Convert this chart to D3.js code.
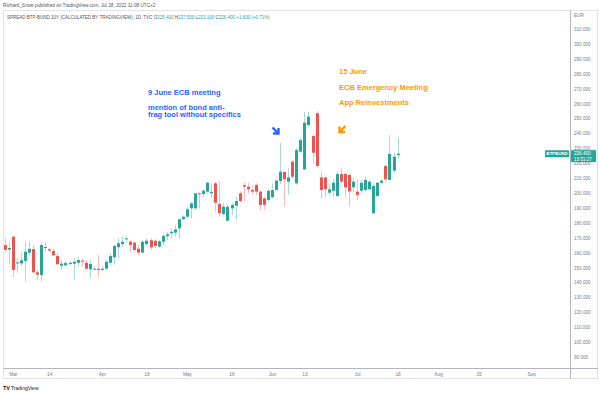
<!DOCTYPE html>
<html><head><meta charset="utf-8">
<script src="https://cdn.jsdelivr.net/npm/d3@7"></script>
<style>
html,body{margin:0;padding:0;background:#fff;}
svg{display:block;font-family:"Liberation Sans",Arial,sans-serif;}
</style></head>
<body>
<svg id="chart" width="601" height="393"></svg>
<script>
// ---- data (daily candles, index 0 = first visible day) ----
const opens = [
165.1,162.0,170.7,152.8,152.8,154.4,160.0,162.4,146.8,145.0,
163.1,162.2,161.1,157.7,151.2,151.5,152.4,152.6,153.2,154.6,
153.2,148.8,148.8,149.2,148.4,149.2,153.2,156.9,163.6,165.8,
168.9,167.3,166.7,162.6,160.0,165.8,168.3,168.0,164.0,167.3,
171.0,173.0,173.4,176.3,182.4,184.1,189.7,189.7,199.8,199.3,
200.9,199.8,206.5,192.6,185.9,181.4,189.7,191.5,199.8,205.2,
204.2,202.0,205.4,200.9,196.4,195.3,197.1,202.0,208.0,214.1,
207.6,221.0,206.5,227.7,215.9,245.6,238.2,253.5,210.5,210.5,
200.2,201.5,198.0,212.7,212.7,212.1,203.8,200.9,201.5,202.0,
202.5,186.4,198.0,206.9,218.1,208.7,215.0,225.4];
const highs = [
169.6,167.1,171.0,156.2,160.0,166.7,167.6,164.9,148.4,166.7,
167.1,163.1,162.2,159.6,155.1,154.4,154.0,156.2,156.9,156.2,
155.1,155.1,150.6,158.4,151.0,155.1,159.6,165.1,169.6,171.0,
171.2,168.4,167.3,165.1,168.4,169.6,169.6,169.0,168.4,173.0,
174.0,176.3,178.5,183.0,185.2,190.4,194.2,200.0,200.2,202.5,
207.6,206.5,207.6,208.3,193.1,192.0,193.5,197.5,200.9,206.9,
206.9,205.4,206.5,202.0,197.5,202.5,206.5,209.2,233.7,214.3,
216.6,222.1,230.2,236.9,254.5,254.5,238.9,255.0,214.3,210.5,
206.5,209.2,214.3,216.6,213.2,212.7,209.9,208.7,208.7,210.9,
208.7,206.5,207.2,209.2,218.8,238.9,227.0,237.5];
const lows = [
159.6,152.8,143.5,146.5,151.0,140.5,158.4,146.1,141.6,140.5,
160.9,160.6,157.7,151.7,148.4,151.0,151.5,141.6,150.3,150.3,
148.8,143.2,148.4,143.5,147.7,148.4,151.7,151.7,156.2,164.0,
166.4,160.6,160.6,158.4,159.6,164.0,161.8,163.0,163.0,165.1,
168.4,169.6,170.7,169.6,181.8,183.0,183.0,188.6,189.7,197.5,
199.8,196.4,187.5,184.1,184.1,181.4,185.2,181.9,193.5,194.2,
199.8,198.7,198.7,188.6,188.6,194.2,196.4,201.5,206.0,190.8,
198.7,209.9,205.4,226.8,215.4,244.5,219.9,216.8,196.4,197.5,
198.7,197.5,197.5,206.5,197.5,190.8,200.9,195.3,199.8,200.9,
202.0,186.4,197.7,206.0,207.6,208.7,213.6,223.1];
const closes = [
161.8,163.1,148.4,153.5,154.9,160.6,162.6,146.8,145.2,165.1,
163.8,161.3,158.2,152.2,152.6,153.0,153.2,153.9,155.1,153.9,
149.2,152.4,149.2,148.4,149.2,153.9,157.7,164.5,166.3,167.3,
169.6,165.1,161.8,160.0,167.3,168.0,163.6,164.5,167.6,171.2,
172.3,174.0,175.6,182.4,184.1,189.1,193.1,199.8,199.1,201.5,
206.9,200.7,193.5,186.4,190.8,190.8,192.0,194.6,194.6,204.2,
202.5,200.9,200.9,192.0,192.0,201.5,202.0,208.3,214.3,209.2,
210.5,210.9,228.8,235.5,247.2,251.2,227.0,218.1,202.0,202.5,
202.5,206.9,212.7,207.6,203.8,201.0,207.6,198.7,206.9,208.7,
207.6,204.7,206.9,208.3,209.2,226.2,224.3,226.4];

const yTicks = [90,100,110,120,130,140,150,160,170,180,190,200,210,220,230,240,250,260,270,280,290,300,310];
const xTickLabels = ["Mar","14","Apr","18","May","16","Jun","13","Jul","18","Aug","15","Sep"];
const xTickIdx = [2,11,24,35,45,56,66,74,87,97,107,117,130];

const lastPrice = 226.4;
const blueNotes = ["9 June ECB meeting", "", "mention of bond anti-", "frag tool without specifics"];
const orangeNotes = ["15 June", "ECB Emergency Meeting", "App Reinvestments"];

// ---- drawing ----
const UP = "#26a69a", DOWN = "#ef5350", GRID = "#e0e3eb", TXT = "#787b86";
const svg = d3.select("#chart");
const x = d3.scaleLinear().domain([0,130]).range([4.7, 531.2]);
const y = d3.scaleLinear().domain([90,310]).range([357,29]);

const candles = opens.map((o,i)=>({i, o, h:highs[i], l:lows[i], c:closes[i]}));

// frame
svg.append("rect").attr("x",3.5).attr("y",10.5).attr("width",594).attr("height",368)
  .attr("fill","none").attr("stroke",GRID);
svg.append("line").attr("x1",570.5).attr("x2",570.5).attr("y1",10).attr("y2",379).attr("stroke","#b2b5be");
svg.append("line").attr("x1",3).attr("x2",598).attr("y1",368.5).attr("y2",368.5).attr("stroke","#b2b5be");

// candles
const g = svg.append("g");
g.selectAll("line.wick").data(candles).join("line")
  .attr("x1",d=>Math.round(x(d.i))+0.5).attr("x2",d=>Math.round(x(d.i))+0.5)
  .attr("y1",d=>y(d.h)).attr("y2",d=>y(d.l))
  .attr("stroke",d=>d.c>=d.o?UP:DOWN).attr("stroke-opacity",0.4).attr("stroke-width",1);
g.selectAll("rect.body").data(candles).join("rect")
  .attr("x",d=>Math.round(x(d.i))-1).attr("width",3)
  .attr("y",d=>y(Math.max(d.o,d.c)))
  .attr("height",d=>Math.max(1,Math.abs(y(d.o)-y(d.c))))
  .attr("fill",d=>d.c>=d.o?UP:DOWN);

// y axis
const ya = svg.append("g").attr("transform","translate(570,0)")
  .call(d3.axisRight(y).tickValues(yTicks).tickFormat(d3.format(".3f")).tickSize(0));
ya.select(".domain").remove();
ya.selectAll("text").attr("x",4).attr("fill",TXT).attr("font-size","4.6px")
  .attr("font-family","Liberation Sans, Arial, sans-serif");
svg.append("text").attr("x",574).attr("y",17).attr("font-size","4.6px").attr("fill",TXT).text("EUR");

// x axis
const xa = svg.append("g").attr("transform","translate(0,368)")
  .call(d3.axisBottom(x).tickValues(xTickIdx).tickFormat((d,i)=>xTickLabels[i]).tickSize(0));
xa.select(".domain").remove();
xa.selectAll("text").attr("y",5).attr("fill",TXT).attr("font-size","4.8px")
  .attr("font-family","Liberation Sans, Arial, sans-serif");

// price badges
const py = y(lastPrice);
svg.append("rect").attr("x",545).attr("y",py-3.5).attr("width",24).attr("height",7).attr("fill",UP).attr("rx",0.5);
svg.append("text").attr("x",557).attr("y",py+1.6).attr("text-anchor","middle").attr("fill","#fff")
  .attr("font-size","4.4px").attr("font-weight","bold").text("BTPBUND");
svg.append("rect").attr("x",571).attr("y",py-3.5).attr("width",25).attr("height",12).attr("fill",UP);
svg.append("text").attr("x",574).attr("y",py+1.7).attr("fill","#fff").attr("font-size","4.6px").text(d3.format(".3f")(lastPrice));
svg.append("text").attr("x",574).attr("y",py+7).attr("fill","#fff").attr("font-size","4.6px").text("13:51:27");

// header
svg.append("text").attr("x",3).attr("y",6.5).attr("font-size","4.7px").attr("fill","#50535e")
  .text("Richard_Snow published on TradingView.com, Jul 18, 2022 11:08 UTC+2");
const hdr = svg.append("text").attr("x",7).attr("y",18.5).attr("font-size","4.5px").attr("fill","#50535e");
hdr.append("tspan").text("SPREAD BTP-BUND 10Y (CALCULATED BY TRADINGVIEW), 1D, TVC  ");
const ohlc = [["O","225.400"],["H","237.500"],["L","223.100"],["C","226.400"]];
ohlc.forEach(([k,v])=>{
  hdr.append("tspan").attr("fill","#50535e").text(k);
  hdr.append("tspan").attr("fill",UP).text(v+"  ");
});
hdr.append("tspan").attr("fill",UP).text("+1.600 (+0.71%)");

// annotations
const BLUE = "#2962ff", ORANGE = "#ff9800";
const bl = [94.5, 0, 109.5, 117];
blueNotes.forEach((t,k)=>{ if(t) svg.append("text").attr("x",148).attr("y",bl[k])
  .attr("font-size","7.5px").attr("font-weight","bold").attr("fill",BLUE).text(t); });
const ol = [73.5, 90, 105];
orangeNotes.forEach((t,k)=> svg.append("text").attr("x",339).attr("y",ol[k])
  .attr("font-size","7.5px").attr("font-weight","bold").attr("fill",ORANGE).text(t));

// arrows
svg.append("path").attr("d","M272.5,127.5 L278.5,133.5 M278.5,128 L278.5,133.5 L273,133.5")
  .attr("fill","none").attr("stroke",BLUE).attr("stroke-width",2.4).attr("stroke-linejoin","miter");
svg.append("path").attr("d","M345.5,126 L339.5,132 M339.5,126.5 L339.5,132 L345,132")
  .attr("fill","none").attr("stroke",ORANGE).attr("stroke-width",2.4).attr("stroke-linejoin","miter");

// logo
svg.append("text").attr("x",3).attr("y",390).attr("font-size","5.5px").attr("font-weight","bold").attr("fill","#131722").text("TV");
svg.append("text").attr("x",11).attr("y",390).attr("font-size","5px").attr("fill","#131722").text("TradingView");
</script>
</body></html>
